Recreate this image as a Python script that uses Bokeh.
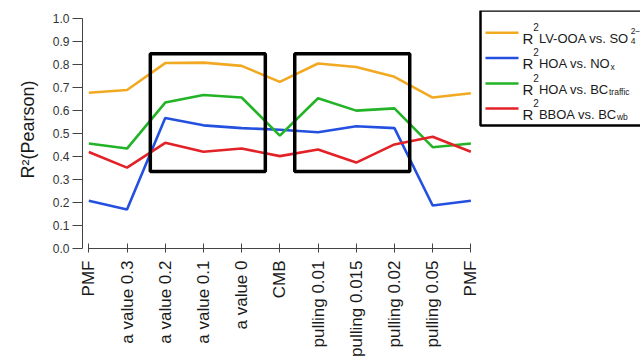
import math
from bokeh.plotting import figure
from bokeh.models import Range1d, FixedTicker, PrintfTickFormatter, BoxAnnotation, Label
from bokeh.embed import file_html
from bokeh.resources import INLINE

# ---------------- data ----------------
categories = ["PMF", "a value 0.3", "a value 0.2", "a value 0.1", "a value 0", "CMB",
              "pulling 0.01", "pulling 0.015", "pulling 0.02", "pulling 0.05", "PMF"]
x_idx = list(range(len(categories)))

r2_lvooa_so4 = [0.678, 0.690, 0.807, 0.809, 0.795, 0.725, 0.805, 0.790, 0.747, 0.657, 0.676]
r2_hoa_nox = [0.208, 0.170, 0.568, 0.536, 0.524, 0.517, 0.506, 0.532, 0.524, 0.187, 0.208]
r2_hoa_bctraffic = [0.457, 0.435, 0.635, 0.668, 0.657, 0.491, 0.654, 0.600, 0.610, 0.441, 0.457]
r2_bboa_bcwb = [0.420, 0.352, 0.460, 0.421, 0.435, 0.402, 0.431, 0.374, 0.453, 0.486, 0.421]

y_ticks = [0.0, 0.1, 0.2, 0.3, 0.4, 0.5, 0.6, 0.7, 0.8, 0.9, 1.0]

# highlighted regions (x from, x to, y from, y to)
highlight_regions = [(1.61, 4.62, 0.335, 0.848), (5.39, 8.40, 0.335, 0.848)]

series = [
    (r2_lvooa_so4, "#F2A922", ("LV-OOA vs. SO", "4", "2\u2212")),
    (r2_hoa_nox, "#2450E0", ("HOA vs. NO", "x", "")),
    (r2_hoa_bctraffic, "#22B326", ("HOA vs. BC", "traffic", "")),
    (r2_bboa_bcwb, "#E32228", ("BBOA vs. BC", "wb", "")),
]

# ---------------- figure ----------------
W, H = 640, 359
FL, FB, FT = 82, 250, 10      # frame left / bottom / top in canvas px
FONT = "Liberation Sans"

p = figure(width=W, height=H, output_backend="svg", toolbar_location=None,
           x_range=Range1d(-0.165, 14.44), y_range=Range1d(0.0, 1.0358),
           min_border_left=FL, min_border_right=0, min_border_top=FT,
           min_border_bottom=H - FB)
p.outline_line_color = None
p.grid.visible = False
p.background_fill_color = "white"

for ys, col, _ in series:
    p.line(x_idx, ys, line_color=col, line_width=2.6)

for x0, x1, y0, y1 in highlight_regions:
    p.add_layout(BoxAnnotation(left=x0, right=x1, bottom=y0, top=y1,
                               fill_alpha=0, line_color="black", line_alpha=1.0,
                               line_width=3.5))

# x axis
xa = p.xaxis[0]
xa.ticker = FixedTicker(ticks=x_idx)
xa.major_label_overrides = {i: lab for i, lab in enumerate(categories)}
xa.bounds = (0, len(categories) - 1)
xa.major_label_orientation = math.pi / 2
xa.major_label_text_font = FONT
xa.major_label_text_font_size = "17px"
xa.major_label_text_color = "#1a1a1a"
xa.major_label_standoff = 8
xa.major_tick_in = 5
xa.major_tick_out = 4
xa.minor_tick_line_color = None
xa.axis_line_color = "#444"
xa.major_tick_line_color = "#444"

# y axis
ya = p.yaxis[0]
ya.ticker = FixedTicker(ticks=y_ticks)
ya.formatter = PrintfTickFormatter(format="%.1f")
ya.bounds = (0, 1)
ya.major_label_text_font = FONT
ya.major_label_text_font_size = "12px"
ya.major_label_text_color = "#333"
ya.major_label_standoff = 3
ya.major_tick_in = 0
ya.major_tick_out = 10
ya.minor_tick_line_color = None
ya.axis_line_color = "#444"
ya.major_tick_line_color = "#444"
ya.axis_label = "R\u00b2(Pearson)"
ya.axis_label_text_font = FONT
ya.axis_label_text_font_size = "18px"
ya.axis_label_text_font_style = "normal"
ya.axis_label_text_color = "#1a1a1a"
ya.axis_label_standoff = 12

# ---------------- legend (drawn manually for super/subscripts) ----------------
ARIAL = {' ': 278, '(': 333, ')': 333, '-': 333, '.': 278, '\u2212': 584,
         'A': 667, 'B': 667, 'C': 722, 'H': 722, 'L': 556, 'N': 722, 'O': 778,
         'R': 722, 'S': 667, 'V': 667,
         'a': 556, 'b': 556, 'c': 500, 'e': 556, 'f': 278, 'i': 222, 'r': 333,
         's': 500, 't': 278, 'v': 500, 'w': 722, 'x': 500}


def tw(s, size):
    return sum(ARIAL.get(ch, 556) for ch in s) / 1000.0 * size


def sx(img_x):
    return img_x - FL


def sy(img_y):
    return FB - img_y


def add_text(txt, x, y, fs):
    p.add_layout(Label(x=sx(x), y=sy(y), x_units="screen", y_units="screen",
                       text=txt, text_font=FONT, text_font_size=f"{fs}px",
                       text_color="#1a1a1a", text_align="left", text_baseline="alphabetic"))


p.add_layout(BoxAnnotation(left=sx(480), right=sx(760), top=sy(12), bottom=sy(127),
                           left_units="screen", right_units="screen",
                           top_units="screen", bottom_units="screen",
                           fill_alpha=0, line_color="black", line_alpha=1.0, line_width=2.5))

row_y = [34.3, 59.5, 85.0, 110.0]
for (ys, col, (main, sub, sup)), ry in zip(series, row_y):
    p.add_layout(BoxAnnotation(left=sx(485), right=sx(518), top=sy(ry - 1.3), bottom=sy(ry + 1.3),
                               left_units="screen", right_units="screen",
                               top_units="screen", bottom_units="screen",
                               fill_color=col, fill_alpha=1, line_color=None))
    base = ry + 5.5
    x = 522.0
    add_text("R", x, base, 15)
    x += tw("R", 15)
    add_text("2", x, base - 11.5, 10)
    x += tw("2", 10)
    add_text(main, x, base, 13)
    x += tw(main, 13)
    if sub:
        add_text(sub, x, base + 3.0, 8.5)
    if sup:
        add_text(sup, x, base - 7.5, 8.5)

open("out.html", "w").write(file_html(p, INLINE))
